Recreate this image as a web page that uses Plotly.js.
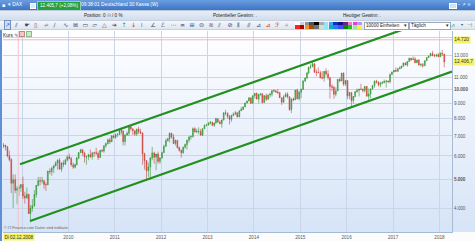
<!DOCTYPE html>
<html><head><meta charset="utf-8">
<script src="https://cdn.plot.ly/plotly-3.0.1.min.js"></script>
<style>
html,body{margin:0;padding:0;width:475px;height:241px;overflow:hidden;background:#fff;font-family:"Liberation Sans",Arial,sans-serif;}
.abs{position:absolute;white-space:nowrap;}
#bar1{position:absolute;left:0;top:0;width:475px;height:10px;background:linear-gradient(#6b9de0,#3e74c4);color:#fff;font-size:4.8px;line-height:10px;}
#bar2{position:absolute;left:0;top:10px;width:475px;height:10px;background:linear-gradient(#e6edf6,#d3deec);color:#222;font-size:4.6px;line-height:10px;border-top:1px solid #b9c9de;box-sizing:border-box;}
#bar3{position:absolute;left:0;top:20px;width:475px;height:10px;background:linear-gradient(#f5f7fa,#dfe6ef);border-top:1px solid #c5d1e0;border-bottom:1px solid #c5d1e0;box-sizing:border-box;}
.ico{position:absolute;top:0;font-family:"DejaVu Sans";font-size:6px;line-height:8px;color:#2e4c7c;}
#chart{position:absolute;left:0;top:30px;width:475px;height:211px;background:linear-gradient(to bottom,#ffffff 0px,#fbfcff 20px,#d6e4f7 202px,#fcfcfd 202px,#fcfcfd 211px);}
#lborder{position:absolute;left:0;top:30px;width:2px;height:211px;background:#5f8fd4;}
.sw{position:absolute;width:4.6px;height:3.6px;}
.box{position:absolute;top:1px;height:6px;background:#fff;border:1px solid #9aa8ba;font-size:4.6px;line-height:6px;color:#222;padding-left:1px;box-sizing:content-box;}
</style></head><body>
<div id="bar1">
  <span class="abs" style="left:2px;font-family:'DejaVu Sans';font-size:5px;">▪</span>
  <span class="abs" style="left:8px;">▾ DAX</span>
  <span class="abs" style="left:30px;top:3px;width:4px;height:4px;background:#dfe9f7;border:0.5px solid #fff;"></span>
  <span class="abs" style="left:37px;top:1px;width:42px;height:8px;line-height:8px;background:#25a03f;border:0.5px solid #8fd49c;text-align:center;font-size:4.6px;">12.405,7 (+2,08%)</span>
  <span class="abs" style="left:81px;">09:38:01 Deutschland 30 Kassa (W)</span>
  <span class="abs" style="left:449px;top:3px;width:6px;height:4px;background:#cfe0f7;border:0.5px solid #fff;"></span>
  <span class="abs" style="left:458px;font-family:'DejaVu Sans';font-size:4.6px;">– ⇗ ×</span>
</div>
<div id="bar2">
  <span class="abs" style="left:84px;">Position: 0 <span style="color:#8a97a8">⊟</span> / 0 %</span>
  <span class="abs" style="left:213px;">Potentieller Gewinn: .</span>
  <span class="abs" style="left:343px;">Heutiger Gewinn: .</span>
</div>
<div id="bar3">
  <div id="icons"></div>
  <div class="box" style="left:364px;width:42px;">10000 Einheiten <span style="position:absolute;right:1px;">▾</span></div>
  <div class="box" style="left:409px;width:39px;">Täglich <span style="position:absolute;right:1px;">▾</span></div>
  <span class="ico" style="left:451px;color:#3a9a3a;">⩘</span>
  <span class="ico" style="left:461px;font-size:4px;">▾</span>
  <span class="ico" style="left:467px;color:#3a9a3a;">⊣</span>
</div>
<div id="chart"></div>
<div id="lborder"></div>
<div class="abs" style="left:3px;top:31px;height:7px;font-size:4.8px;line-height:7px;color:#222;">Kurs <span style="font-family:'DejaVu Sans';color:#46628e;">✎</span><span style="display:inline-block;width:4px;height:4px;background:#f2c6c6;border:0.5px solid #b88;margin-left:1px;"></span><span style="display:inline-block;width:4px;height:4px;background:#c8ecc8;border:0.5px solid #8b8;margin-left:1px;"></span></div>
<script>
// ---- DAX, semi-monthly candles (first period: August 2008, first half) ----
const firstYear = 2008, firstMonth = 8;
const openVals = [
 6479,6520,6422,6000,5831,4861,4988,4600,4669,4700,
 4810,4400,4338,4460,3843,4000,4085,4450,4770,4950,4940,4950,4808,4800,5332,5310,5458,5550,5675,5800,5414,5680,5625,5800,
 5957,5875,5608,5500,5598,5900,6154,6290,6136,5950,5964,6050,5966,6150,6148,6110,5925,6260,6229,6490,6601,6790,6688,7000,
 6914,7075,7077,7310,7272,6700,7041,7150,7514,7400,7294,7100,7376,7230,7159,6100,5785,5350,5502,5900,6141,5940,6088,5750,
 5898,6150,6458,6750,6856,7150,6947,6600,6761,6400,6264,6150,6416,6550,6772,6940,6970,7400,7216,7250,7260,7050,7405,7600,
 7612,7720,7776,7600,7741,8000,7795,7700,7914,8370,8348,8130,7959,8200,8276,8380,8103,8500,8594,8750,9033,9170,9405,9006,
 9552,9730,9306,9660,9692,9060,9556,9300,9603,9660,9943,9900,9833,9780,9407,9090,9470,9660,9474,8580,9326,9250,9980,9330,
 9806,10030,10694,10960,11402,11900,11966,12230,11454,11450,11413,10985,10945,11540,11309,10985,10259,10190,9660,9915,10850,10708,11382,10450,
 10743,9545,9798,9200,9495,9850,9966,10050,10039,9950,10263,9520,9680,10070,10337,10690,10593,10400,10511,10580,10665,10700,10640,11250,
 11481,11630,11535,11770,11834,12000,12313,12110,12438,12770,12615,12700,12325,12600,12118,12150,12056,12520,12829,12990,13230,13030,13024,13100,
 12918,13250,13189];
const highVals = [
 6620,6530,6480,6250,5900,5200,5200,4750,4800,4800,
 5110,4550,4700,4470,4100,4300,4600,4800,5100,5100,5100,4970,4900,5350,5450,5520,5600,5760,5850,5900,5720,5800,5870,6020,
 6111,5950,5700,5650,5950,6170,6340,6330,6200,6000,6100,6300,6150,6200,6390,6200,6290,6330,6500,6650,6860,6900,7050,7080,
 7140,7160,7350,7440,7300,7100,7250,7530,7600,7400,7300,7400,7520,7400,7200,6150,5800,5700,5950,6430,6200,5980,6200,5950,
 6200,6550,6850,6900,7190,7170,7100,6800,6800,6450,6300,6450,6600,6800,6990,7040,7480,7480,7400,7480,7400,7420,7650,7690,
 7800,7870,7820,7750,8060,8000,7900,7950,8400,8560,8400,8250,8250,8400,8500,8400,8520,8770,8800,9050,9200,9420,9420,9600,
 9750,9800,9680,9720,9700,9600,9720,9650,9800,9950,10050,10000,10050,9850,9410,9600,9800,9820,9500,9350,9420,9980,10090,9940,
 10100,10800,10970,11420,11950,12220,12390,12250,11700,11900,11600,11550,11550,11800,11650,11000,10450,10330,10200,10850,11000,11400,11430,10800,
 10750,9850,9800,9450,9900,10100,10000,10480,10100,10300,10300,10100,10100,10350,10750,10800,10700,10650,10700,10830,10800,10750,11350,11500,
 11650,11900,11850,12000,12050,12320,12350,12500,12800,12800,12950,12900,12600,12650,12300,12300,12550,12840,13000,13300,13525,13200,13200,13300,
 13400,13597,13200];
const lowVals = [
 6380,6250,5930,5750,4500,4014,4500,4130,4400,4550,
 4300,4150,4300,3830,3588,3900,4050,4350,4750,4780,4850,4650,4575,4790,5200,5150,5250,5540,5400,5400,5300,5500,5600,5750,
 5850,5530,5430,5450,5590,5850,6130,6000,5700,5600,5800,5900,5830,5950,6050,5810,5900,6170,6150,6390,6550,6580,6680,6880,
 6850,6950,7050,7100,6500,6510,7030,7000,7300,7050,7000,7000,7100,7100,5600,5400,4965,5100,5000,5800,5650,5370,5650,5640,
 5880,6150,6450,6700,6650,6850,6580,6500,6350,6200,5915,6100,6350,6300,6650,6800,6900,7200,7150,7100,7000,7000,7400,7550,
 7600,7650,7550,7500,7700,7750,7650,7460,7900,8200,8000,7650,7800,8150,8250,8100,8100,8500,8550,8750,9000,9150,9000,9000,
 9350,9300,9000,9550,9000,9050,9170,9250,9400,9500,9850,9750,9700,9400,8900,9050,9450,9350,8500,8355,9150,9250,9300,9200,
 9380,10000,10650,10850,11280,11750,11900,11400,11100,11400,10900,10840,10650,11100,10800,9338,9900,9325,9500,9900,10600,10700,10300,10300,
 9300,9300,8700,9000,9450,9800,9500,10000,9800,9800,9500,9214,9350,10000,10150,10500,10250,10200,10450,10500,10174,10550,10500,11240,
 11450,11500,11500,11750,11800,11950,12100,11950,12400,12500,12600,12300,12300,12050,11950,11868,12000,12500,12800,12950,12950,12850,12850,12900,
 12900,13000,11900];
const closeVals = [
 6520,6422,6000,5831,4861,4988,4600,4669,4700,4810,
 4400,4338,4460,3843,4000,4085,4450,4770,4950,4940,4950,4808,4800,5332,5310,5458,5550,5675,5800,5414,5680,5625,5800,5957,
 5875,5608,5500,5598,5900,6154,6290,6136,5950,5964,6050,5966,6150,6148,6110,5925,6260,6229,6490,6601,6790,6688,7000,6914,
 7075,7077,7310,7272,6700,7041,7150,7514,7400,7294,7100,7376,7230,7159,6100,5785,5350,5502,5900,6141,5940,6088,5750,5898,
 6150,6458,6750,6856,7150,6947,6600,6761,6400,6264,6150,6416,6550,6772,6940,6970,7400,7216,7250,7260,7050,7405,7600,7612,
 7720,7776,7600,7741,8000,7795,7700,7914,8370,8348,8130,7959,8200,8276,8380,8103,8500,8594,8750,9033,9170,9405,9006,9552,
 9730,9306,9660,9692,9060,9556,9300,9603,9660,9943,9900,9833,9780,9407,9090,9470,9660,9474,8580,9326,9250,9980,9330,9806,
 10030,10694,10960,11402,11900,11966,12230,11454,11450,11413,10985,10945,11540,11309,10985,10259,10190,9660,9915,10850,10708,11382,10450,10743,
 9545,9798,9200,9495,9850,9966,10050,10039,9950,10263,9520,9680,10070,10337,10690,10593,10400,10511,10580,10665,10700,10640,11250,11481,
 11630,11535,11770,11834,12000,12313,12110,12438,12770,12615,12700,12325,12600,12118,12150,12056,12520,12829,12990,13230,13030,13024,13100,12918,
 13250,13189,12406.7];

// trend channel (drawn by hand on the original chart)
const upperChannelDates = ['2008-12-16','2018-04-10'];
const upperChannelValues = [5622, 18200];
const lowerChannelDates = ['2009-03-05','2018-04-10'];
const lowerChannelValues = [3627, 11520];

// axes
const yearTicks = ['2009-01-01','2010-01-01','2011-01-01','2012-01-01','2013-01-01','2014-01-01','2015-01-01','2016-01-01','2017-01-01','2018-01-01'];
const yearLabels = ['','2010','2011','2012','2013','2014','2015','2016','2017','2018'];
const priceTicks = [4000,5000,6000,7000,8000,9000,10000,11000,13000,15000];
const priceLabels = ['4.000','<b>5.000</b>','6.000','7.000','8.000','9.000','<b>10.000</b>','11.000','13.000',''];
const alarmLevel = 14720, alarmLabel = '14.720';
const lastPrice = 12406.7, lastLabel = '12.406,7';
const cursorDate = '2008-12-02', cursorLabel = 'Di 02.12.2008';

// toolbar
const iconsA = ['↗','⫽','☛','▯','⩫','∕','∿','⊠','▭','▱','△','➔','↑','↓','⁞','∠'];
const iconsB = ['ℰ','⋯','≍','⊞','⊜','≋','⫽','⊘','⫴','⫻','⊿','⊿','ℱ','⌗'];
const paletteTop = ['#ffffff','#d0d0d0','#909090','#505050','#000000','#a8a8a8','#9fdcff','#3fa0ff','#1030c0','#101080','#702090','#f080c0','#e040e0','#c090ff'];
const paletteBot = ['#ff2020','#b00000','#ff9020','#a05010','#707070','#d8d8d8','#80f0f0','#10b0b0','#2080ff','#4848ff','#108010','#20c020','#90f090','#f8f040'];

(function(){
  const box = document.getElementById('icons');
  let h = '';
  iconsA.forEach((g,i)=>{
    let c = '#2e4c7c';
    if (g==='↑') c='#20a020'; if (g==='↓') c='#e02020';
    const extra = i===0 ? 'background:#cfe0f6;outline:0.5px solid #6f93c8;' : '';
    h += `<span class="ico" style="left:${5+i*9.7}px;color:${c};${extra}">${g}</span>`;
  });
  iconsB.forEach((g,i)=>{
    let c = i>=11 ? '#c03030' : '#2e4c7c';
    h += `<span class="ico" style="left:${161+i*9.5}px;color:${c};">${g}</span>`;
  });
  paletteTop.forEach((c,i)=>{ h += `<span class="sw" style="left:${295+i*4.8}px;top:0.5px;background:${c};"></span>`; });
  paletteBot.forEach((c,i)=>{ h += `<span class="sw" style="left:${295+i*4.8}px;top:4.3px;background:${c};"></span>`; });
  box.innerHTML = h;
})();

// semi-monthly dates
const dates = [];
(function(){
  let y = firstYear, m = firstMonth;
  while (dates.length < closeVals.length) {
    const mm = String(m).padStart(2,'0');
    dates.push(`${y}-${mm}-08`);
    if (dates.length < closeVals.length) dates.push(`${y}-${mm}-23`);
    m++; if (m > 12) { m = 1; y++; }
  }
})();

const traces = [
  {type:'scatter', mode:'lines', x:[cursorDate,cursorDate], y:[3000,20000], line:{color:'#f5c3cb',width:1}, hoverinfo:'skip'},
  {type:'scatter', mode:'lines', x:['2008-01-01','2018-12-31'], y:[alarmLevel,alarmLevel], line:{color:'#f3b3bd',width:1}, hoverinfo:'skip'},
  {type:'candlestick', x:dates, open:openVals, high:highVals, low:lowVals, close:closeVals,
   increasing:{line:{color:'#2c8c2c',width:0.55}, fillcolor:'#53b453'},
   decreasing:{line:{color:'#c4392d',width:0.55}, fillcolor:'#e0574b'},
   whiskerwidth:0, hoverinfo:'skip'},
  {type:'scatter', mode:'lines', x:upperChannelDates, y:upperChannelValues, line:{color:'#22901f',width:2.2}, hoverinfo:'skip'},
  {type:'scatter', mode:'lines', x:lowerChannelDates, y:lowerChannelValues, line:{color:'#22901f',width:2.2}, hoverinfo:'skip'}
];

const tickFont = {family:'Liberation Sans, Arial, sans-serif', size:4.6, color:'#555'};
const layout = {
  width:475, height:211,
  margin:{l:3, r:23, t:1, b:9, pad:0},
  paper_bgcolor:'rgba(0,0,0,0)', plot_bgcolor:'rgba(0,0,0,0)',
  showlegend:false,
  font:{family:'Liberation Sans, Arial, sans-serif', size:4.6, color:'#555'},
  xaxis:{type:'date', range:['2008-08-04','2018-04-10'], tickmode:'array', tickvals:yearTicks, ticktext:yearLabels,
         showgrid:true, gridcolor:'#cad6e7', gridwidth:1, ticks:'', tickfont:tickFont,
         showline:true, linecolor:'#a7bad4', linewidth:1, zeroline:false, rangeslider:{visible:false}, fixedrange:true},
  yaxis:{type:'log', side:'right', range:[3.5227, 4.1974], tickmode:'array', tickvals:priceTicks, ticktext:priceLabels,
         showgrid:true, gridcolor:'#cad6e7', gridwidth:1, ticks:'', tickfont:tickFont,
         showline:true, linecolor:'#a7bad4', linewidth:1, zeroline:false, fixedrange:true},
  annotations:[
    {xref:'paper', yref:'y', x:1, y:Math.log10(alarmLevel), xanchor:'left', yanchor:'middle', xshift:1, text:alarmLabel,
     showarrow:false, bgcolor:'#f5f064', borderpad:0.3, font:{size:4.8,color:'#333'}},
    {xref:'paper', yref:'y', x:1, y:Math.log10(lastPrice), xanchor:'left', yanchor:'middle', xshift:1, text:lastLabel,
     showarrow:false, bgcolor:'#f5f064', borderpad:0.3, font:{size:4.8,color:'#333'}},
    {xref:'paper', yref:'paper', x:0, y:0, xanchor:'left', yanchor:'top', yshift:-1, text:cursorLabel,
     showarrow:false, bgcolor:'#f5f064', borderpad:0.5, font:{size:4.6,color:'#333'}},
    {xref:'paper', yref:'paper', x:0, y:0, xanchor:'left', yanchor:'bottom', xshift:-1, yshift:0.5, text:'© IT-Finance.com Daten sind indikativ',
     showarrow:false, font:{size:3.8,color:'#666'}}
  ]
};
Plotly.newPlot('chart', traces, layout, {staticPlot:true, displayModeBar:false});
</script>
</body></html>
